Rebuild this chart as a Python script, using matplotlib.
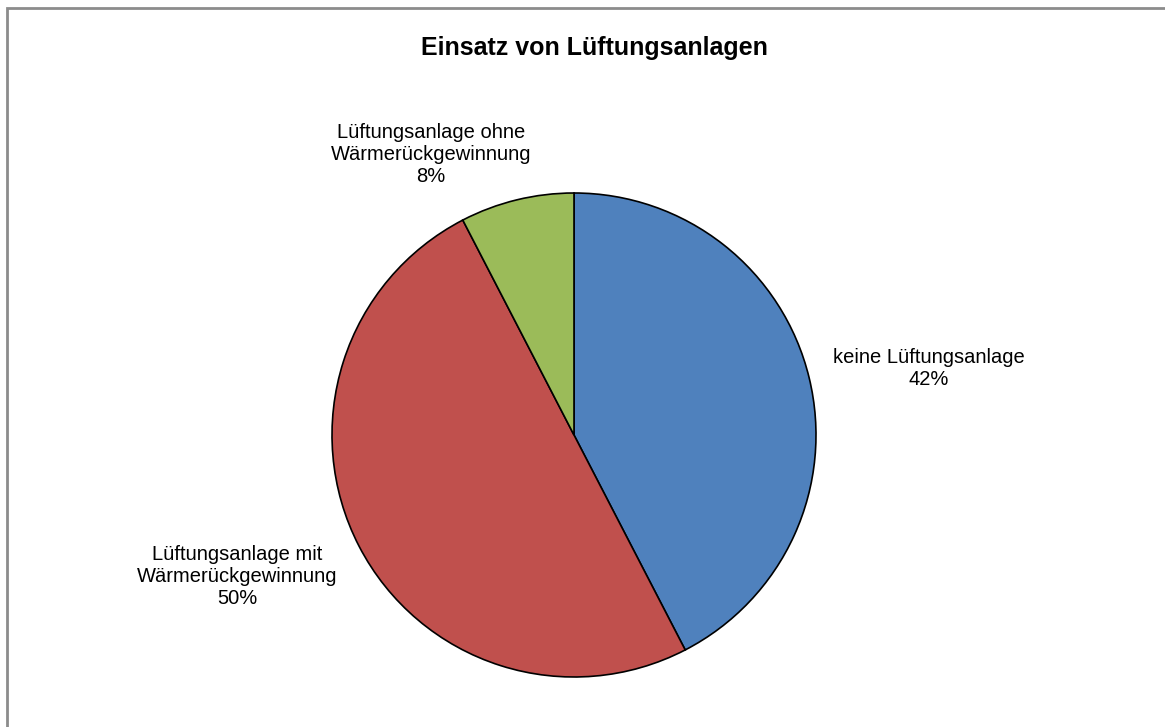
import matplotlib.pyplot as plt
from matplotlib.patches import Rectangle

categories = ["keine Lüftungsanlage", "Lüftungsanlage mit\nWärmerückgewinnung",
              "Lüftungsanlage ohne\nWärmerückgewinnung"]
shares = [42.4, 50.0, 7.6]
colors = ["#4F81BD", "#C0504D", "#9BBB59"]

W, H = 1165, 727
fig = plt.figure(figsize=(W / 100, H / 100), dpi=100)
plt.rcParams['font.family'] = ['Liberation Sans', 'DejaVu Sans']

# gray chart-area border (right/bottom run off the picture)
fig.patches.append(Rectangle((7 / W, -0.05), 1.2, 1 - 8 / H + 0.05,
                             transform=fig.transFigure, fill=False,
                             edgecolor="#8c8c8c", linewidth=2))

# pie centred at (574, 435) px with radius 242 px
cx, cy, r = 574, 435, 242
ax = fig.add_axes([(cx - r) / W, 1 - (cy + r) / H, 2 * r / W, 2 * r / H])
ax.pie(shares, colors=colors, startangle=90, counterclock=False, radius=1,
       wedgeprops=dict(edgecolor="black", linewidth=1.2))
ax.set_xlim(-1, 1)
ax.set_ylim(-1, 1)
ax.set_aspect("auto")
ax.axis("off")

fig.text(594 / W, 1 - 48 / H, "Einsatz von Lüftungsanlagen", ha="center",
         va="center", fontsize=18, fontweight="bold")

label_pos = [(929, 368), (237, 576), (431, 154)]
for name, val, (px, py) in zip(categories, shares, label_pos):
    fig.text(px / W, 1 - py / H, f"{name}\n{val:.0f}%", ha="center", va="center",
             fontsize=14.5, linespacing=1.2)

fig.savefig("out.png", dpi=100)
